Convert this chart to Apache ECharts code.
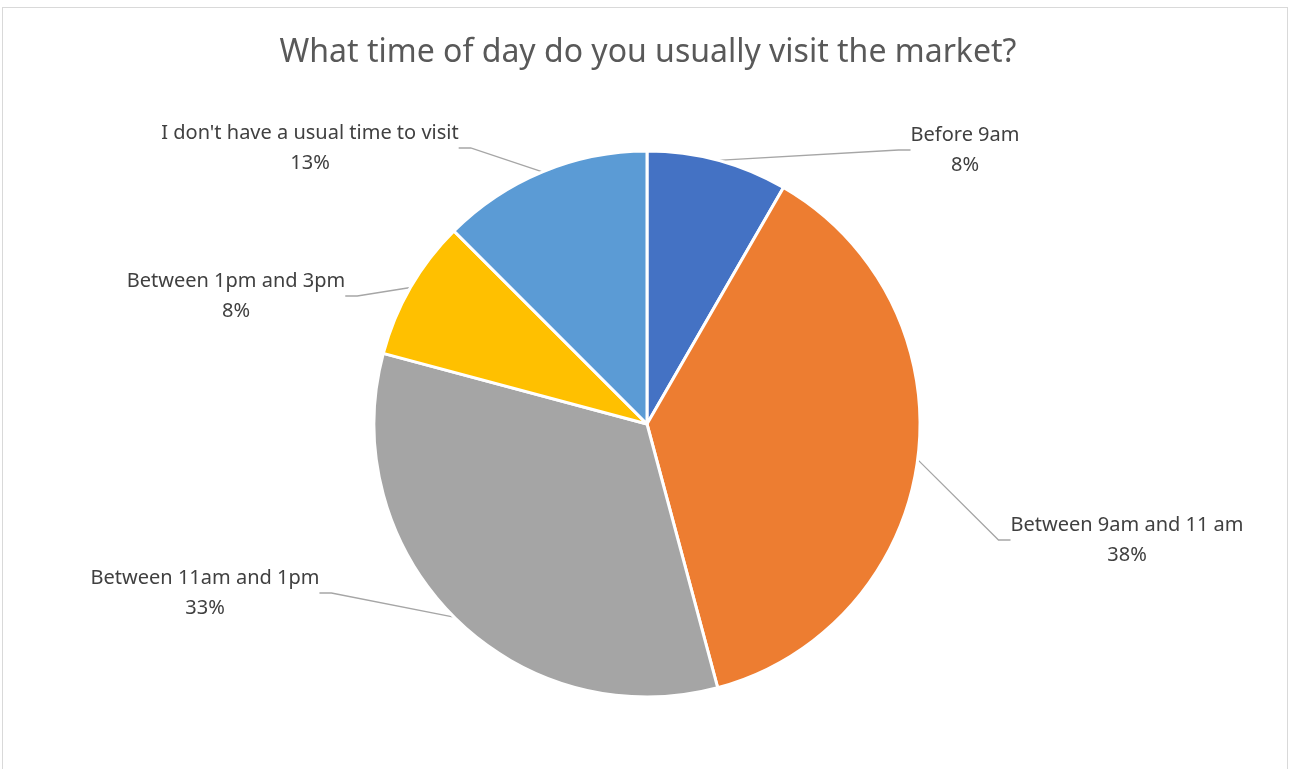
<!DOCTYPE html>
<html>
<head>
<meta charset="utf-8">
<script src="https://cdn.jsdelivr.net/npm/echarts@6/dist/echarts.min.js"></script>
<style>
html,body{margin:0;padding:0;background:#fff;}
#frame{position:absolute;left:2px;top:7px;width:1286px;height:780px;border:1px solid #d9d9d9;box-sizing:border-box;}
#chart{position:absolute;left:0;top:0;width:1296px;height:769px;}
</style>
</head>
<body>
<div id="frame"></div>
<div id="chart"></div>
<script>
const title = "What time of day do you usually visit the market?";
const categories = ["Before 9am", "Between 9am and 11 am", "Between 11am and 1pm", "Between 1pm and 3pm", "I don't have a usual time to visit"];
const counts = [2, 9, 8, 2, 3];
const colors = ["#4472C4", "#ED7D31", "#A5A5A5", "#FFC000", "#5B9BD5"];
// label anchor (text block centre) placement, style only
const labelSpots = [[965, 150], [1127, 540], [205, 593], [236, 296], [310, 148]];

const chart = echarts.init(document.getElementById('chart'), null, {renderer: 'canvas'});
chart.setOption({
  animation: false,
  backgroundColor: 'transparent',
  title: {
    text: title, left: 'center', top: 32,
    textStyle: {fontFamily: 'Noto Sans', fontSize: 32, fontWeight: 'normal', color: '#595959'}
  },
  series: [{
    type: 'pie',
    center: [647, 424],
    radius: 273,
    startAngle: 90,
    clockwise: true,
    data: categories.map((c, i) => ({name: c, value: counts[i], itemStyle: {color: colors[i]}})),
    itemStyle: {borderColor: '#fff', borderWidth: 3},
    label: {
      show: true,
      formatter: p => p.name + '\n' + Math.round(p.percent) + '%',
      fontFamily: 'Noto Sans', fontSize: 20, color: '#404040', lineHeight: 30, align: 'center'
    },
    labelLine: {show: true, length: 20, length2: 12, lineStyle: {color: '#A6A6A6', width: 1.3}},
    labelLayout: p => ({x: labelSpots[p.dataIndex][0], y: labelSpots[p.dataIndex][1], align: 'center', verticalAlign: 'middle'}),
    emphasis: {disabled: true}
  }]
});
</script>
</body>
</html>
